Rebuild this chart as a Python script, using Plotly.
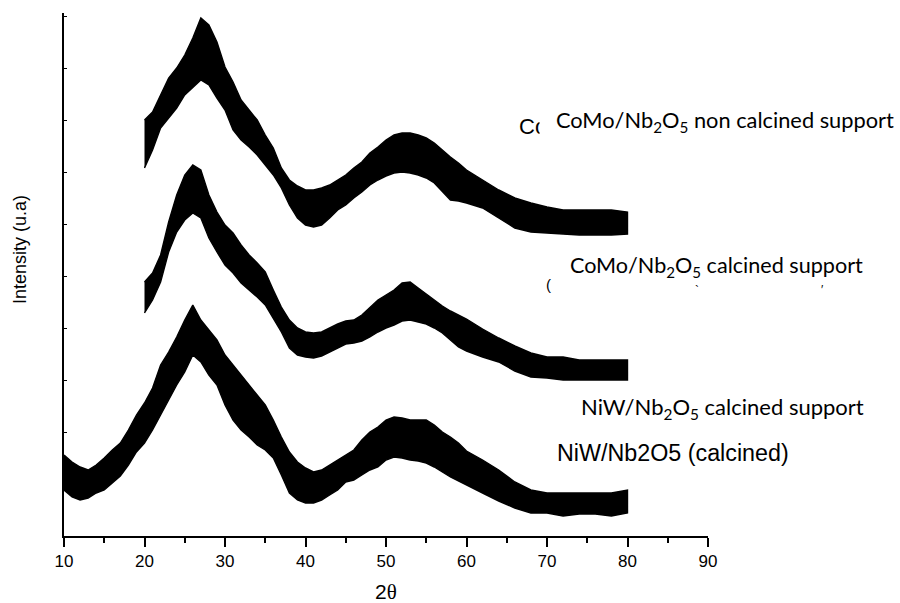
import plotly.graph_objects as go

# ---------------- data (intensity in arbitrary units) ----------------
# Each noisy XRD trace is described by the upper and lower edge of its noise band.
two_theta_como_nc = [20,21,22,23,24,25,26,27,28,29,30,31,32,33,34,35,36,37,38,39,40,41,42,43,44,45,46,47,48,49,
                     50,51,52,53,54,55,56,57,58,59,60,62,64,66,68,70,72,74,76,78,80]
upper_como_nc = [416,424,441,458,468,481,498,518,511,494,469,454,436,426,416,401,388,368,356,350,346,346,348,351,356,361,368,374,383,389,
                 396,401,403,403,401,398,393,386,379,373,366,356,346,338,333,329,326,326,326,326,324]
lower_como_nc = [368,386,408,418,428,441,448,456,451,438,426,406,396,389,381,371,361,348,331,318,311,309,311,318,326,331,338,344,351,356,
                 360,363,364,363,361,358,353,344,336,335,333,328,318,308,304,303,302,301,301,301,302]

two_theta_como_c = [20,21,22,23,24,25,26,27,28,29,30,31,32,33,34,35,36,37,38,39,40,41,42,43,44,45,46,47,48,49,
                    50,51,52,53,54,55,56,57,58,59,60,62,64,66,68,70,72,74,76,78,80]
upper_como_c = [254,263,281,314,341,361,371,366,341,324,311,303,291,281,273,264,246,229,216,208,204,203,204,208,212,215,216,221,229,236,
                241,246,253,254,248,242,236,230,225,221,217,207,198,190,183,179,179,176,176,176,176]
lower_como_c = [223,236,254,284,304,316,323,318,298,284,271,263,253,246,239,231,218,204,188,181,179,178,180,184,188,192,193,195,199,204,
                208,211,215,216,214,212,208,203,196,189,185,179,174,165,159,158,156,156,156,156,156]

two_theta_niw_c = [10,11,12,13,14,15,16,17,18,19,20,21,22,23,24,25,26,27,28,29,30,31,32,33,34,35,36,37,38,39,
                   40,41,42,43,44,45,46,47,48,49,50,51,52,53,54,55,56,57,58,59,60,62,64,66,68,70,72,74,76,78,80]
upper_niw_c = [81,74,69,66,71,78,86,93,106,121,133,148,171,184,199,216,231,216,206,196,181,171,161,151,141,131,116,99,84,74,
               68,64,66,71,76,81,86,96,104,109,116,119,118,116,116,116,111,104,99,93,85,76,66,54,46,43,43,43,43,43,46]
lower_niw_c = [46,39,36,38,43,46,53,60,71,84,93,106,121,136,151,164,181,174,161,151,131,116,106,99,91,86,78,61,43,36,
               33,33,36,41,46,54,56,61,66,69,76,79,78,76,75,73,69,64,59,55,51,43,35,28,23,23,20,22,22,20,23]

series = [
    (two_theta_como_nc, upper_como_nc, lower_como_nc),
    (two_theta_como_c, upper_como_c, lower_como_c),
    (two_theta_niw_c, upper_niw_c, lower_niw_c),
]

x_ticks = [10, 20, 30, 40, 50, 60, 70, 80, 90]

# ---------------- figure ----------------
W, H = 900, 603
PL, PR, PT, PB = 64, 708, 13, 536  # plot area in pixels


def px(xp):
    return (xp - PL) / (PR - PL)


def py(yp):
    return (PB - yp) / (PB - PT)


fig = go.Figure()
for xs, up, lo in series:
    fig.add_trace(go.Scatter(
        x=list(xs) + list(xs)[::-1],
        y=list(up) + list(lo)[::-1],
        mode="lines", fill="toself", fillcolor="black",
        line=dict(color="black", width=1.4),
        hoverinfo="skip", showlegend=False,
    ))

ARIAL = "Liberation Sans, Arial, sans-serif"
CALIBRI = "Lato, Carlito, Calibri, sans-serif"

annotations = [
    dict(text="Intensity (u.a)", x=px(20), y=py(250), textangle=-90,
         font=dict(family=ARIAL, size=18, color="black")),
    dict(text="2<span style='font-family:Liberation Serif'>θ</span>", x=px(386), y=py(592),
         font=dict(family=ARIAL, size=21, color="black")),
    # remnants of older labels, partly hidden by white boxes
    dict(text="Co", x=px(517), y=py(127), xanchor="left",
         font=dict(family=ARIAL, size=22, color="black")),
    dict(text=" ", x=px(539), y=py(125), xanchor="left", width=24, height=32,
         bgcolor="white", borderpad=0, font=dict(family=ARIAL, size=10, color="white")),
    dict(text="(", x=px(548), y=py(284), font=dict(family=ARIAL, size=15, color="black")),
    dict(text="`", x=px(697), y=py(291), font=dict(family=ARIAL, size=12, color="black")),
    dict(text="′", x=px(822), y=py(290), font=dict(family=ARIAL, size=12, color="black")),
    # labels
    dict(text="CoMo/Nb<sub>2</sub>O<sub>5</sub> non calcined support", x=px(725), y=py(121),
         font=dict(family=CALIBRI, size=21.8, color="black")),
    dict(text="CoMo/Nb<sub>2</sub>O<sub>5</sub> calcined support", x=px(716), y=py(266),
         font=dict(family=CALIBRI, size=21.6, color="black")),
    dict(text="NiW/Nb<sub>2</sub>O<sub>5</sub> calcined support", x=px(722), y=py(408),
         font=dict(family=CALIBRI, size=22, color="black")),
    dict(text="NiW/Nb2O5 (calcined)", x=px(555), y=py(453), xanchor="left",
         font=dict(family=ARIAL, size=23.3, color="black")),
]
for a in annotations:
    a.update(xref="paper", yref="paper", showarrow=False)
    a.setdefault("xanchor", "center")
    a.setdefault("yanchor", "middle")

fig.update_layout(
    width=W, height=H, autosize=False,
    margin=dict(l=PL, r=W - PR, t=PT, b=H - PB, pad=0),
    paper_bgcolor="white", plot_bgcolor="white",
    annotations=annotations,
    hovermode=False,
    xaxis=dict(
        range=[10, 90], tickvals=x_ticks, ticktext=[str(v) for v in x_ticks],
        showline=True, linecolor="black", linewidth=2, mirror=False,
        ticks="outside", ticklen=9, tickwidth=1.6, tickcolor="black",
        minor=dict(ticks="outside", ticklen=5, tickwidth=1.6, tickcolor="black", dtick=5, tick0=10),
        tickfont=dict(family=ARIAL, size=17, color="black"),
        showgrid=False, zeroline=False, fixedrange=True,
    ),
    yaxis=dict(
        range=[0, PB - PT], showline=True, linecolor="black", linewidth=2,
        ticks="inside", ticklen=3, tickwidth=1, tickcolor="black", dtick=52, tick0=0,
        showticklabels=False, showgrid=False, zeroline=False, fixedrange=True,
    ),
)

# remove the default page margin so the 900x603 figure fills the window exactly
fig.write_html(
    "out.html",
    config={"displayModeBar": False},
    post_script="document.body.style.margin='0';document.body.style.overflow='hidden';",
)
